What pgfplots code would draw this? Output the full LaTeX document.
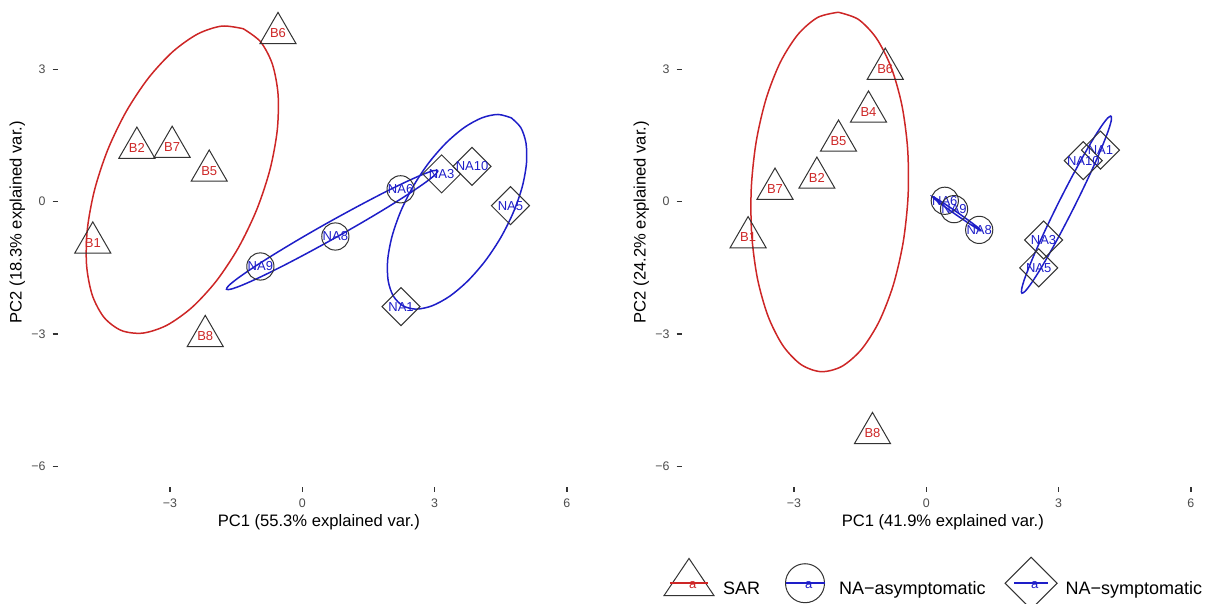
\documentclass[border=0pt]{standalone}
\usepackage{pgfplots}
\pgfplotsset{compat=1.18}
\usepackage{fontspec}
\setmainfont{Liberation Sans}
\definecolor{sarred}{RGB}{205,38,38}
\definecolor{nablue}{RGB}{30,30,200}
\definecolor{tickgray}{RGB}{77,77,77}
\definecolor{markgray}{RGB}{51,51,51}
\pgfplotsset{
  pcastyle/.style={
    anchor=south west,
    x=22.05pt, y=22.05pt,
    xmin=-5.55, xmax=6.3, ymin=-6.47, ymax=4.55,
    axis x line*=bottom, axis y line*=left,
    axis line style={draw=none},
    xtick={-3,0,3,6}, xticklabels={−3,0,3,6},
    ytick={-6,-3,0,3}, yticklabels={−6,−3,0,3},
    tick align=outside, major tick length=2.5pt,
    tick style={draw=markgray, line width=0.7pt},
    ticklabel style={font=\fontsize{6.2}{7}\selectfont, text=tickgray},
    label style={font=\fontsize{8.3}{10}\selectfont},
    xlabel style={at={(axis description cs:0.5,-0.072)}, anchor=center},
    ylabel style={at={(axis description cs:-0.077,0.545)}, anchor=center},
  },
  labels/.style={nodes near coords, point meta=explicit symbolic,
    nodes near coords align={center},
    every node near coord/.append style={font=\fontsize{6.5}{7}\selectfont, text=#1, inner sep=0pt, anchor=center}},
  sarpts/.style={forget plot, only marks, mark=triangle, mark size=10.4pt,
    mark options={draw=markgray, fill=none, line width=0.5pt}, labels=sarred},
  asympts/.style={forget plot, only marks, mark=o, mark size=6.8pt,
    mark options={draw=markgray, fill=none, line width=0.5pt}, labels=nablue},
  sympts/.style={forget plot, only marks, mark=square, mark size=6.72pt,
    mark options={rotate=45, draw=markgray, fill=none, line width=0.5pt}, labels=nablue},
  ell/.style={forget plot, no marks, smooth, line width=0.75pt, draw=#1},
}
\begin{document}
\begin{tikzpicture}
\path[use as bounding box] (0,0) rectangle (609.5pt,302pt);
% ---------------- left panel ----------------
\begin{axis}[pcastyle, at={(28.75pt,58.5pt)},
  xlabel={PC1 (55.3\% explained var.)}, ylabel={PC2 (18.3\% explained var.)}]
\addplot[sarpts] table[meta=label] {
x y label
-4.75 -0.93 B1
-3.75 1.22 B2
-2.11 0.70 B5
-0.55 3.82 B6
-2.95 1.24 B7
-2.20 -3.05 B8
};
\addplot[asympts] table[meta=label] {
x y label
-0.95 -1.47 NA9
0.75 -0.79 NA8
2.23 0.28 NA6
};
\addplot[sympts] table[meta=label] {
x y label
3.16 0.63 NA3
3.85 0.80 NA10
4.72 -0.09 NA5
2.24 -2.38 NA1
};
\addplot[ell=sarred] coordinates {
(-1.338,3.921) (-1.822,3.981) (-2.367,3.804) (-2.936,3.401) (-3.490,2.801) (-3.992,2.044)
(-4.408,1.182) (-4.708,0.273) (-4.873,-0.620) (-4.891,-1.437) (-4.761,-2.122) (-4.492,-2.628)
(-4.102,-2.921) (-3.618,-2.981) (-3.073,-2.804) (-2.504,-2.401) (-1.950,-1.801) (-1.448,-1.044)
(-1.033,-0.182) (-0.732,0.727) (-0.567,1.620) (-0.549,2.437) (-0.679,3.122) (-0.948,3.628)
(-1.338,3.921)};
\addplot[ell=nablue] coordinates {
(3.078,0.706) (2.972,0.703) (2.710,0.608) (2.310,0.429) (1.799,0.177) (1.211,-0.132)
(0.587,-0.474) (-0.031,-0.828) (-0.600,-1.170) (-1.082,-1.475) (-1.443,-1.723) (-1.661,-1.897)
(-1.718,-1.986) (-1.612,-1.983) (-1.350,-1.888) (-0.950,-1.709) (-0.439,-1.457) (0.149,-1.148)
(0.773,-0.806) (1.391,-0.452) (1.960,-0.111) (2.442,0.195) (2.803,0.443) (3.021,0.617)
(3.078,0.706)};
\addplot[ell=nablue] coordinates {
(4.740,1.900) (4.440,1.977) (4.077,1.902) (3.676,1.683) (3.263,1.333) (2.866,0.877)
(2.514,0.345) (2.230,-0.226) (2.033,-0.797) (1.936,-1.330) (1.947,-1.787) (2.064,-2.139)
(2.280,-2.360) (2.580,-2.437) (2.943,-2.362) (3.345,-2.143) (3.758,-1.793) (4.154,-1.337)
(4.506,-0.805) (4.790,-0.234) (4.988,0.337) (5.084,0.870) (5.073,1.327) (4.956,1.679)
(4.740,1.900)};
\end{axis}
% ---------------- right panel ----------------
\begin{axis}[pcastyle, at={(340.75pt,58.5pt)},
  xlabel={PC1 (41.9\% explained var.)}, ylabel={PC2 (24.2\% explained var.)},
  legend columns=3, legend cell align=left,
  legend style={at={(axis description cs:-0.0354,-0.198)}, anchor=west,
    draw=none, fill=none, inner sep=0pt, outer sep=0pt,
    font=\fontsize{9}{10}\selectfont, nodes={inner sep=0pt},
    /tikz/every odd column/.style={column sep=4pt},
    /tikz/every even column/.style={column sep=9.5pt}}]
\addlegendimage{legend image code/.code={
  \path[draw=none, fill=none] (-13pt,-9.9pt) rectangle (13pt,16.1pt);
  \draw[markgray, fill=none, line width=0.5pt] (0,15.5pt) -- (12.5pt,-3.1pt) -- (-12.5pt,-3.1pt) -- cycle;
  \draw[sarred, line width=1pt] (-9.5pt,3.1pt) -- (9.5pt,3.1pt);
  \node[draw=none, fill=none, text=sarred, font=\fontsize{6.5}{7}\selectfont, inner sep=0pt] at (0,1.4pt) {a};}}
\addlegendentry{SAR}
\addlegendimage{legend image code/.code={
  \path[draw=none, fill=none] (-13pt,-9.9pt) rectangle (13pt,16.1pt);
  \draw[markgray, fill=none, line width=0.5pt] (0,3.1pt) circle (9.75pt);
  \draw[nablue, line width=1pt] (-9.75pt,3.1pt) -- (9.75pt,3.1pt);
  \node[draw=none, fill=none, text=nablue, font=\fontsize{6.5}{7}\selectfont, inner sep=0pt] at (0,1.4pt) {a};}}
\addlegendentry{NA−asymptomatic}
\addlegendimage{legend image code/.code={
  \path[draw=none, fill=none] (-13pt,-9.9pt) rectangle (13pt,16.1pt);
  \draw[markgray, fill=none, line width=0.5pt] (0,16.1pt) -- (13pt,3.1pt) -- (0,-9.9pt) -- (-13pt,3.1pt) -- cycle;
  \draw[nablue, line width=1pt] (-8.5pt,3.1pt) -- (8.5pt,3.1pt);
  \node[draw=none, fill=none, text=nablue, font=\fontsize{6.5}{7}\selectfont, inner sep=0pt] at (0,1.4pt) {a};}}
\addlegendentry{NA−symptomatic}
\addplot[sarpts] table[meta=label] {
x y label
-4.04 -0.81 B1
-2.48 0.54 B2
-1.31 2.04 B4
-1.99 1.38 B5
-0.93 3.01 B6
-3.43 0.29 B7
-1.22 -5.25 B8
};
\addplot[asympts] table[meta=label] {
x y label
0.42 0.02 NA6
0.63 -0.17 NA9
1.20 -0.64 NA8
};
\addplot[sympts] table[meta=label] {
x y label
3.95 1.17 NA1
3.56 0.93 NA10
2.66 -0.87 NA3
2.55 -1.50 NA5
};
\addplot[ell=sarred] coordinates {
(-1.994,4.295) (-2.461,4.178) (-2.909,3.792) (-3.309,3.162) (-3.632,2.332) (-3.857,1.357)
(-3.968,0.305) (-3.958,-0.752) (-3.828,-1.744) (-3.586,-2.601) (-3.249,-3.266) (-2.839,-3.694)
(-2.386,-3.855) (-1.919,-3.738) (-1.471,-3.352) (-1.071,-2.722) (-0.748,-1.892) (-0.523,-0.917)
(-0.412,0.135) (-0.422,1.192) (-0.552,2.184) (-0.794,3.041) (-1.131,3.706) (-1.541,4.134)
(-1.994,4.295)};
\addplot[ell=nablue] coordinates {
(1.243,-0.654) (1.177,-0.590) (0.981,-0.441) (0.707,-0.245) (0.429,-0.057) (0.220,0.075)
(0.137,0.114) (0.203,0.050) (0.399,-0.099) (0.673,-0.295) (0.951,-0.483) (1.160,-0.615)
(1.243,-0.654)};
\addplot[ell=nablue] coordinates {
(4.191,1.945) (4.115,1.898) (3.975,1.716) (3.781,1.414) (3.546,1.010) (3.286,0.533)
(3.019,0.016) (2.763,-0.507) (2.535,-1.000) (2.352,-1.429) (2.224,-1.765) (2.162,-1.986)
(2.169,-2.075) (2.245,-2.028) (2.385,-1.846) (2.579,-1.544) (2.814,-1.140) (3.074,-0.663)
(3.341,-0.146) (3.597,0.377) (3.825,0.870) (4.008,1.299) (4.136,1.635) (4.198,1.856)
(4.191,1.945)};
\end{axis}
\end{tikzpicture}
\end{document}
